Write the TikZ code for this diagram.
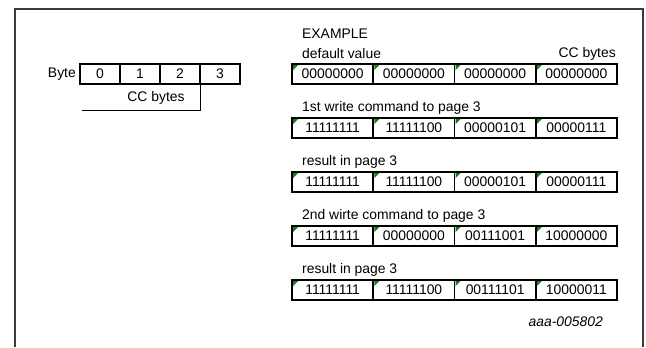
\documentclass[tikz,border=0pt]{standalone}
\usepackage{fontspec}
\setmainfont{Liberation Sans}
\usepackage{tikz}
\usetikzlibrary{positioning}
\usetikzlibrary{calc}
\definecolor{nxp-frame}{HTML}{3A3A3A}
\definecolor{mark-green}{HTML}{187A20}
\colorlet{frame}{nxp-frame}
\tikzset{
  cell/.style={draw,line width=1.8bp,minimum width=81.25bp,minimum height=20bp,inner sep=0pt,outer sep=0pt},
  bytecell/.style={draw,line width=1.5bp,minimum width=40bp,minimum height=20bp,inner sep=0pt,outer sep=0pt},
  label text/.style={inner sep=0pt,anchor=west},
}
% one row: name, top y, label, four byte values
\newcommand{\tikzccrow}[7]{%
% row label
\node[label text] (#1label) at (302,{-#2+10}) {#3};
% cells
\node[cell,anchor=north west] (#1a) at (292,-#2) {#4};
\node[cell,right=0pt of #1a] (#1b) {#5};
\node[cell,right=0pt of #1b] (#1c) {#6};
\node[cell,right=0pt of #1c] (#1d) {#7};
% green corner marks
\foreach \c in {a,b,c,d} {
  \fill[mark-green] (#1\c.north west) ++(1bp,-1bp) -- ++(5bp,0) -- ++(-5bp,-5bp) -- cycle;
}
}

\begin{document}
\begin{tikzpicture}[x=1bp,y=1bp,font=\fontsize{13.9bp}{16bp}\selectfont]
\useasboundingbox (0,0) rectangle (646,-347);
% frame, open at the bottom
\draw[frame,line width=1.3bp] (15,-347) -- (15,-9) -- (643,-9) -- (643,-347);
% byte layout
\foreach \i in {0,...,3} {
  \node[bytecell,anchor=north west] (byte\i) at (80+40*\i,-64) {\i};
}
\node[inner sep=0pt,left=4bp of byte0] (bytelabel) {Byte};
\coordinate (ccend) at (82,-110);
\draw[line width=1bp] (byte3.south west) |- (ccend);
\node (cclabel) at (156,-98) {CC bytes};
% example
\node[label text] (example) at (302,-34) {EXAMPLE};
\node[inner sep=0pt,anchor=east] (ccright) at (616,-54) {CC bytes};
\tikzccrow{def}{64}{default value}{00000000}{00000000}{00000000}{00000000}
\tikzccrow{wra}{118}{1st write command to page 3}{11111111}{11111100}{00000101}{00000111}
\tikzccrow{resa}{172}{result in page 3}{11111111}{11111100}{00000101}{00000111}
\tikzccrow{wrb}{226}{2nd wirte command to page 3}{11111111}{00000000}{00111001}{10000000}
\tikzccrow{resb}{280}{result in page 3}{11111111}{11111100}{00111101}{10000011}
\node[inner sep=0pt,anchor=east,font=\fontsize{13.9bp}{16bp}\selectfont\itshape] (docid) at (603,-322) {aaa-005802};
\end{tikzpicture}
\end{document}
